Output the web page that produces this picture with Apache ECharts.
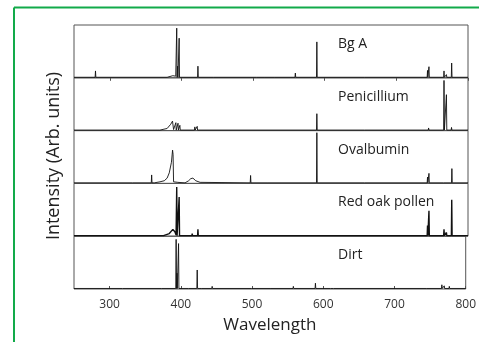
<!DOCTYPE html>
<html>
<head>
<meta charset="utf-8">
<script src="https://cdn.jsdelivr.net/npm/echarts@6/dist/echarts.min.js"></script>
<style>
  html, body { margin: 0; padding: 0; background: #fff; }
  #chart { width: 479px; height: 342px; }
</style>
</head>
<body>
<div id="chart"></div>
<script>
// wavelength axis
const xMin = 250;
const xMax = 800;
const xTicks = [300, 400, 500, 600, 700, 800];

// panels, top to bottom
const sampleNames = ['Bg A', 'Penicillium', 'Ovalbumin', 'Red oak pollen', 'Dirt'];

// sharp lines: [wavelength, relative intensity]
const bgAPeaks = [
  [280, 0.13], [393.4, 0.94], [394.6, 0.22], [396.8, 0.75], [423, 0.22], [445, 0.03],
  [505, 0.03], [517, 0.04], [530, 0.02], [559, 0.09], [589, 0.68], [656, 0.03],
  [743.5, 0.14], [745.5, 0.21], [766.5, 0.13], [769.9, 0.06], [777.2, 0.28]
];
const bgABands = [[380, 0.01], [388, 0.04], [392, 0.03]];

const penicilliumPeaks = [
  [358, 0.03], [392.2, 0.15], [395.2, 0.14], [397.8, 0.1], [418.7, 0.07], [422, 0.08],
  [589, 0.32], [656, 0.03], [745, 0.05], [766.5, 0.95], [769.9, 0.68], [777, 0.06]
];
const penicilliumBands = [[370, 0.01], [380, 0.04], [385, 0.12], [387.5, 0.18], [389, 0.02]];

const ovalbuminPeaks = [
  [332, 0.03], [358.4, 0.16], [496.5, 0.15], [520, 0.02], [589, 0.96], [656, 0.04],
  [743.5, 0.12], [745.5, 0.19], [766.5, 0.03], [777.5, 0.28]
];
const ovalbuminBands = [
  [362, 0.01], [370, 0.03], [376, 0.05], [380, 0.1], [383, 0.2], [386, 0.4],
  [387.6, 0.63], [388.3, 0.55], [389, 0.03], [395, 0.02],
  [405, 0.01], [410, 0.05], [413, 0.09], [416, 0.1], [420, 0.05], [426, 0.02]
];

const redOakPeaks = [
  [393.4, 0.93], [396.8, 0.74], [407, 0.04], [415, 0.05], [423, 0.13], [656, 0.03],
  [743.5, 0.2], [745.5, 0.48], [766.5, 0.13], [769.9, 0.07], [777.3, 0.69]
];
const redOakBands = [[375, 0.01], [383, 0.05], [388, 0.13], [391, 0.08], [392.5, 0.02]];

const dirtPeaks = [
  [318.6, 0.04], [373, 0.03], [393.4, 0.94], [394.6, 0.3], [396.8, 0.86], [411, 0.03],
  [423, 0.36], [430, 0.03], [444, 0.05], [500, 0.02], [527, 0.03], [558, 0.05],
  [589, 0.11], [610.5, 0.04], [615, 0.04], [745, 0.03], [766.5, 0.08], [769.9, 0.06], [777, 0.05]
];
const dirtBands = [];

const spectra = [
  [bgAPeaks, bgABands],
  [penicilliumPeaks, penicilliumBands],
  [ovalbuminPeaks, ovalbuminBands],
  [redOakPeaks, redOakBands],
  [dirtPeaks, dirtBands]
];

const BASE = 0.01;
const HALF_WIDTH = 0.5;

function buildLine(peaks, bands) {
  const pts = [[xMin, BASE], [xMax, BASE]];
  peaks.forEach(([w, h]) => {
    pts.push([w - HALF_WIDTH, BASE], [w, h], [w + HALF_WIDTH, BASE]);
  });
  bands.forEach(p => pts.push(p));
  return pts.sort((a, b) => a[0] - b[0]);
}

const chart = echarts.init(document.getElementById('chart'));

const gridTop = 25;
const panelH = 52.8;
const FONT = '"Open Sans", "Noto Sans", sans-serif';
const GREEN = '#12aa4a';

const grids = [], xAxes = [], yAxes = [], series = [], labels = [];

sampleNames.forEach((name, i) => {
  const first = i === 0;
  const last = i === sampleNames.length - 1;
  grids.push({
    left: 74, width: 394, top: gridTop + i * panelH, height: panelH,
    show: true, borderColor: '#555', borderWidth: 1
  });
  xAxes.push({
    gridIndex: i, type: 'value', min: xMin, max: xMax,
    position: first ? 'top' : 'bottom',
    show: first || last,
    axisLine: { show: false },
    axisTick: {
      show: true, inside: true, length: 3,
      customValues: xTicks,
      lineStyle: { color: '#555' }
    },
    axisLabel: {
      show: last,
      customValues: xTicks,
      color: '#333', fontSize: 12, fontFamily: FONT, margin: 10
    },
    splitLine: { show: false },
    name: last ? 'Wavelength' : '',
    nameLocation: 'middle', nameGap: 28,
    nameTextStyle: { color: '#222', fontSize: 17, fontFamily: FONT }
  });
  yAxes.push({
    gridIndex: i, type: 'value', min: 0, max: 1, show: false
  });
  series.push({
    type: 'line', name: name, xAxisIndex: i, yAxisIndex: i,
    data: buildLine(spectra[i][0], spectra[i][1]),
    showSymbol: false, symbol: 'none', sampling: false,
    lineStyle: { color: '#111', width: i === 3 ? 1.4 : 0.9 },
    silent: true
  });
  labels.push({
    type: 'text', left: 338, top: gridTop + i * panelH + 12,
    style: { text: name, fill: '#222', font: '14px ' + FONT }
  });
});

chart.setOption({
  animation: false,
  backgroundColor: '#fff',
  grid: grids,
  xAxis: xAxes,
  yAxis: yAxes,
  series: series,
  graphic: labels.concat([
    {
      type: 'text', x: 54, y: 156, rotation: Math.PI / 2,
      style: {
        text: 'Intensity (Arb. units)', fill: '#222', font: '18px ' + FONT,
        align: 'center', verticalAlign: 'middle'
      }
    },
    { type: 'line', shape: { x1: 14, y1: 7.5, x2: 479, y2: 7.5 }, style: { stroke: GREEN, lineWidth: 2 } },
    { type: 'line', shape: { x1: 14, y1: 7.5, x2: 14, y2: 342 }, style: { stroke: GREEN, lineWidth: 2 } }
  ])
});
</script>
</body>
</html>
